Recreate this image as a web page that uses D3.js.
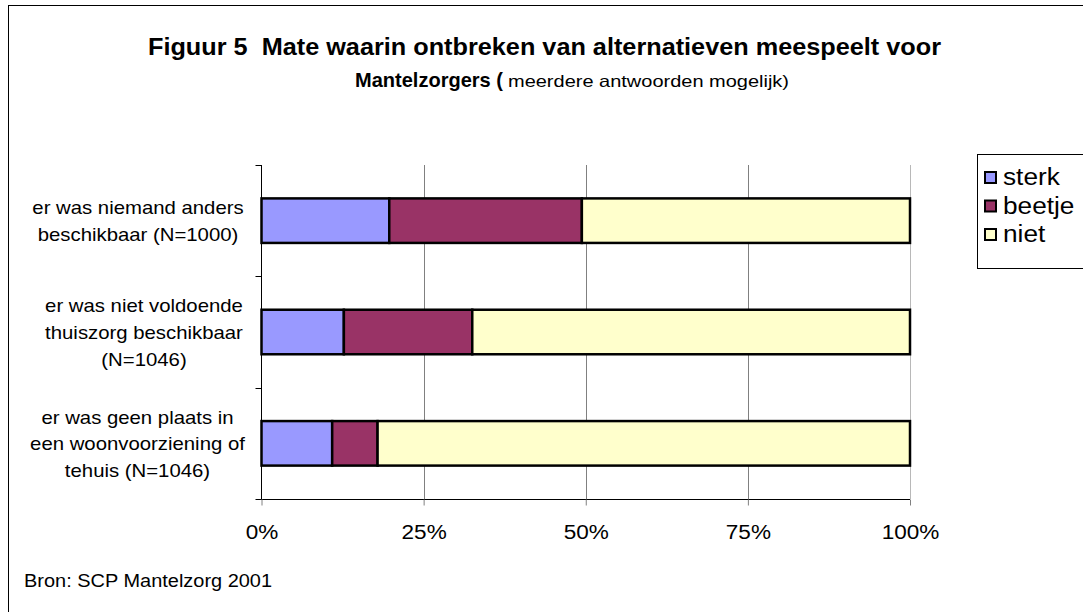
<!DOCTYPE html>
<html lang="nl">
<head>
    <meta charset="UTF-8">
    <title>Figuur 5</title>
    <script src="https://cdn.jsdelivr.net/npm/d3@7"></script>
    <style>
        body { margin: 0; background: #fff; }
        svg { display: block; font-family: Arial, "Liberation Sans", sans-serif; }
    </style>
</head>
<body>
<svg id="chart" width="1083" height="612"></svg>
<script>
    // data (percent)
    var categories = [
        ["er was niemand anders", "beschikbaar (N=1000)"],
        ["er was niet voldoende", "thuiszorg beschikbaar", "(N=1046)"],
        ["er was geen plaats in", "een woonvoorziening of", "tehuis (N=1046)"]
    ];
    var seriesNames = ["sterk", "beetje", "niet"];
    var sterk = [19.7, 12.7, 10.9];
    var beetje = [29.7, 19.8, 7.0];
    var niet = [50.6, 67.5, 82.1];
    var tickValues = [0, 25, 50, 75, 100];
    var colors = ["#9999FF", "#993366", "#FFFFCC"];

    var svg = d3.select("#chart");
    // note: "top" is taken by window.top, so use plot* names
    var plotL = 261.5, plotR = 910, plotT = 165, plotB = 499;

    // the original text is drawn a bit wider than Liberation Sans
    function widen(sel, f) {
        sel.each(function() {
            var len = this.getComputedTextLength();
            d3.select(this).attr("textLength", len * f).attr("lengthAdjust", "spacingAndGlyphs");
        });
    }

    // outer frame
    svg.append("rect")
        .attr("x", 8.5).attr("y", 5.5)
        .attr("width", 1100).attr("height", 700)
        .attr("fill", "none").attr("stroke", "#000").attr("stroke-width", 1);

    // title
    var title = svg.append("g").attr("fill", "#000");
    title.append("text")
        .attr("x", 148).attr("y", 55)
        .attr("font-size", 23).attr("font-weight", "bold")
        .attr("textLength", 793).attr("lengthAdjust", "spacingAndGlyphs")
        .text("Figuur 5\u00a0 Mate waarin ontbreken van alternatieven meespeelt voor");
    title.append("text")
        .attr("x", 355).attr("y", 87)
        .attr("font-size", 21).attr("font-weight", "bold")
        .attr("textLength", 148).attr("lengthAdjust", "spacingAndGlyphs")
        .text("Mantelzorgers (");
    title.append("text")
        .attr("x", 508).attr("y", 87)
        .attr("font-size", 16.5)
        .attr("textLength", 281).attr("lengthAdjust", "spacingAndGlyphs")
        .text("meerdere antwoorden mogelijk)");

    var x = d3.scaleLinear().domain([0, 100]).range([plotL, plotR]);
    var y = d3.scaleBand().domain(d3.range(categories.length)).range([plotT, plotB]).paddingInner(0.6).paddingOuter(0.3);
    var yOuter = d3.scaleBand().domain(d3.range(categories.length)).range([plotT, plotB]);

    // gridlines
    svg.append("g").selectAll("line")
        .data(tickValues.slice(1))
        .enter().append("line")
        .attr("x1", function(d) { return Math.round(x(d)) + 0.5; })
        .attr("x2", function(d) { return Math.round(x(d)) + 0.5; })
        .attr("y1", plotT).attr("y2", plotB)
        .attr("stroke", function(d) { return d === 100 ? "#b8b8b8" : "#808080"; })
        .attr("stroke-width", 1);

    // stacked bars
    var table = categories.map(function(c, i) {
        return { sterk: sterk[i], beetje: beetje[i], niet: niet[i] };
    });
    var stacked = d3.stack().keys(seriesNames)(table);

    svg.append("g").selectAll("g")
        .data(stacked)
        .enter().append("g")
        .attr("fill", function(d, i) { return colors[i]; })
        .selectAll("rect")
        .data(function(d) { return d; })
        .enter().append("rect")
        .attr("x", function(d) { return x(d[0]); })
        .attr("width", function(d) { return x(d[1]) - x(d[0]); })
        .attr("y", function(d, i) { return y(i); })
        .attr("height", y.bandwidth())
        .attr("stroke", "#000").attr("stroke-width", 2.5);

    // x axis
    var xAxis = svg.append("g")
        .attr("transform", "translate(0," + (plotB + 0.5) + ")")
        .call(d3.axisBottom(x).tickValues(tickValues).tickSize(6).tickPadding(19)
            .tickFormat(function(d) { return d + "%"; }));
    xAxis.select(".domain").attr("d", "M" + (plotL - 6) + ",0H" + plotR).attr("stroke", "#000");
    xAxis.selectAll(".tick line").attr("stroke", "#808080");
    xAxis.selectAll("text")
        .attr("font-size", 20.5)
        .attr("font-family", "Arial, 'Liberation Sans', sans-serif")
        .attr("fill", "#000")
        .call(widen, 1.1);

    // y axis line with category separators
    var yAxis = svg.append("g");
    yAxis.append("line")
        .attr("x1", plotL).attr("x2", plotL)
        .attr("y1", plotT).attr("y2", plotB)
        .attr("stroke", "#000");
    yAxis.selectAll(".sep")
        .data(d3.range(categories.length))
        .enter().append("line")
        .attr("x1", plotL - 6).attr("x2", plotL)
        .attr("y1", function(d) { return Math.round(yOuter(d)) + 0.5; })
        .attr("y2", function(d) { return Math.round(yOuter(d)) + 0.5; })
        .attr("stroke", "#000");

    // category labels
    var lineH = 26.7;
    var labelCx = [138, 144, 137.5];
    svg.append("g").selectAll("text")
        .data(categories)
        .enter().append("text")
        .attr("text-anchor", "middle")
        .attr("font-size", 19)
        .attr("fill", "#000")
        .each(function(lines, i) {
            var cy = y(i) + y.bandwidth() / 2;
            var y0 = cy - (lines.length - 1) * lineH / 2 + 7;
            d3.select(this).selectAll("tspan")
                .data(lines)
                .enter().append("tspan")
                .attr("x", labelCx[i])
                .attr("y", function(d, j) { return y0 + j * lineH; })
                .text(function(d) { return d; })
                .call(widen, 1.07);
        });

    // legend
    var legend = svg.append("g");
    legend.append("rect")
        .attr("x", 977.5).attr("y", 154.5).attr("width", 120).attr("height", 114)
        .attr("fill", "#fff").attr("stroke", "#000");
    var items = legend.selectAll("g.item")
        .data(seriesNames)
        .enter().append("g")
        .attr("transform", function(d, i) { return "translate(985," + (172 + i * 28.5) + ")"; });
    items.append("rect")
        .attr("width", 11).attr("height", 11)
        .attr("fill", function(d, i) { return colors[i]; })
        .attr("stroke", "#000").attr("stroke-width", 2);
    items.append("text")
        .attr("x", 18).attr("y", 13)
        .attr("font-size", 23)
        .attr("fill", "#000")
        .text(function(d) { return d; })
        .call(widen, 1.14);

    // source
    svg.append("text")
        .attr("x", 24).attr("y", 587)
        .attr("font-size", 17.5)
        .attr("fill", "#000")
        .text("Bron: SCP Mantelzorg 2001")
        .call(widen, 1.14);
</script>
</body>
</html>
